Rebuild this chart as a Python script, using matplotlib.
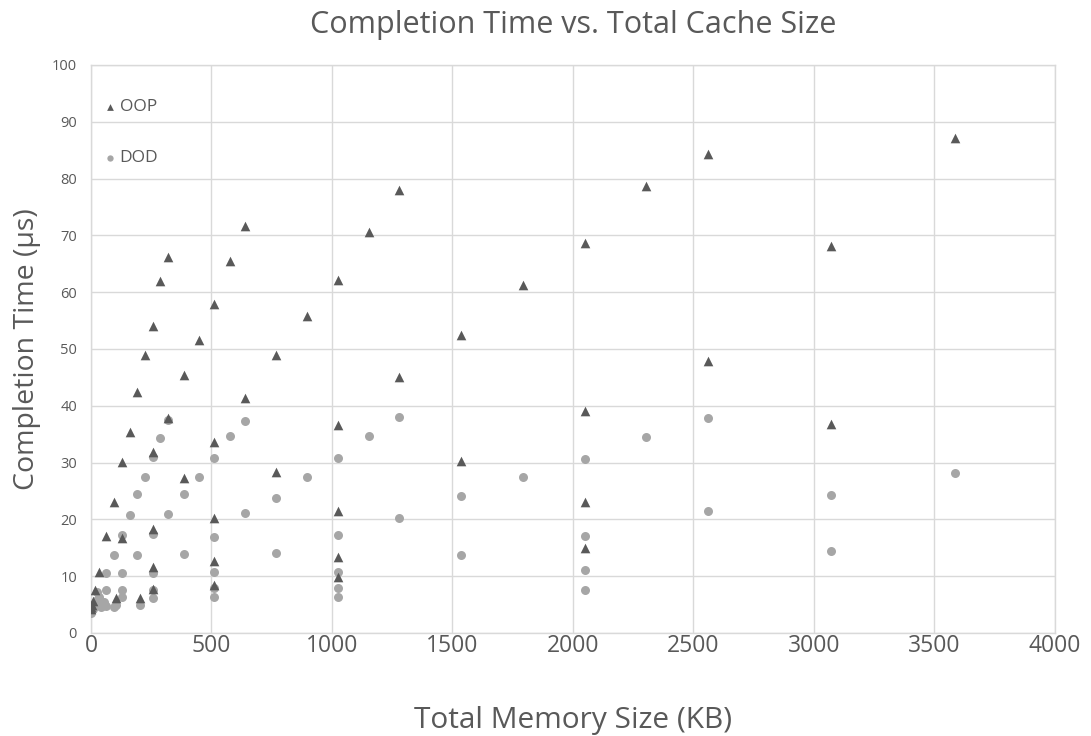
import matplotlib
matplotlib.use("Agg")
import matplotlib.pyplot as plt

# ---- data ----
oop_x = [1, 2, 4, 8, 16, 32, 64, 96, 104, 128, 128, 160, 192, 203, 224,
         256, 256, 256, 256, 256, 288, 320, 320, 384, 384, 448,
         512, 512, 512, 512, 512, 576, 640, 640, 768, 768, 896,
         1024, 1024, 1024, 1024, 1024, 1152, 1280, 1280, 1536, 1536, 1792,
         2048, 2048, 2048, 2048, 2304, 2560, 2560, 3072, 3072, 3584]
oop_y = [4.2, 4.5, 5.0, 5.6, 7.6, 10.7, 17.0, 23.0, 6.2, 30.1, 16.8, 35.4, 42.4, 6.2, 49.0,
         54.0, 31.8, 18.3, 11.6, 7.8, 62.0, 66.2, 37.9, 45.4, 27.3, 51.6,
         58.0, 33.7, 20.3, 12.6, 8.5, 65.5, 71.7, 41.3, 48.9, 28.4, 55.8,
         62.1, 36.6, 21.4, 13.3, 9.9, 70.6, 78.0, 45.0, 52.4, 30.3, 61.2,
         68.7, 39.0, 23.1, 15.0, 78.7, 84.3, 47.8, 68.2, 36.8, 87.1]

dod_x = [1, 2, 4, 8, 12, 16, 24, 25, 32, 40, 48, 56, 64, 64, 64, 96, 96, 104,
         128, 128, 128, 128, 160, 192, 192, 203, 224, 256, 256, 256, 256, 256,
         288, 320, 320, 384, 384, 448, 512, 512, 512, 512, 512, 576, 640, 640,
         768, 768, 896, 1024, 1024, 1024, 1024, 1024, 1152, 1280, 1280,
         1536, 1536, 1792, 2048, 2048, 2048, 2048, 2304, 2560, 2560,
         3072, 3072, 3584]
dod_y = [3.6, 3.8, 4.0, 4.3, 4.8, 5.2, 5.8, 7.2, 6.3, 4.6, 5.0, 5.5, 10.6, 7.5, 4.8, 13.8, 4.6, 5.0,
         17.2, 10.6, 7.5, 6.3, 20.8, 24.5, 13.8, 5.0, 27.5, 31.0, 17.4, 10.5, 7.6, 6.2,
         34.4, 37.5, 20.9, 24.5, 13.9, 27.5, 30.8, 16.9, 10.8, 7.9, 6.3, 34.6, 37.3, 21.1,
         23.8, 14.0, 27.5, 30.8, 17.2, 10.8, 7.9, 6.3, 34.7, 38.0, 20.3,
         24.1, 13.7, 27.4, 30.6, 17.1, 11.0, 7.6, 34.5, 37.8, 21.5,
         24.3, 14.5, 28.2]

x_ticks = [0, 500, 1000, 1500, 2000, 2500, 3000, 3500, 4000]
y_ticks = [0, 10, 20, 30, 40, 50, 60, 70, 80, 90, 100]

title = "Completion Time vs. Total Cache Size"
xlabel = "Total Memory Size (KB)"
ylabel = "Completion Time (µs)"

# ---- style ----
plt.rcParams['font.family'] = ['Open Sans', 'DejaVu Sans']
text_c = "#595959"
grid_c = "#d9d9d9"

fig = plt.figure(figsize=(10.91, 7.36), dpi=100)
ax = fig.add_axes([0.0834, 0.140, 0.8836, 0.7717])

ax.scatter(dod_x, dod_y, marker='o', s=42, color="#a6a6a6", linewidths=0,
           label="DOD", zorder=3)
ax.scatter(oop_x, oop_y, marker='^', s=48, color="#595959", linewidths=0,
           label="OOP", zorder=4)

ax.set_xlim(0, 4000)
ax.set_ylim(0, 100)
ax.set_xticks(x_ticks)
ax.set_yticks(y_ticks)
ax.tick_params(axis='x', labelsize=16.5, colors=text_c, length=0, pad=1)
ax.tick_params(axis='y', labelsize=10.5, colors=text_c, length=0, pad=10)
ax.grid(True, color=grid_c, linewidth=1)
ax.set_axisbelow(True)
for sp in ax.spines.values():
    sp.set_color(grid_c)
    sp.set_linewidth(1)

ax.set_title(title, fontsize=22, color=text_c, pad=23)
ax.set_xlabel(xlabel, fontsize=21.5, color=text_c, labelpad=34)
ax.set_ylabel(ylabel, fontsize=20.5, color=text_c, labelpad=8)

h, l = ax.get_legend_handles_labels()
leg = ax.legend([h[1], h[0]], [l[1], l[0]], loc='upper left',
                bbox_to_anchor=(0.0, 0.958), frameon=False, fontsize=12.5,
                labelspacing=2.0, handletextpad=0.05, handlelength=1.0,
                markerscale=0.7, borderaxespad=0.2)
for t in leg.get_texts():
    t.set_color(text_c)

fig.savefig("out.png", dpi=100, facecolor="white")
